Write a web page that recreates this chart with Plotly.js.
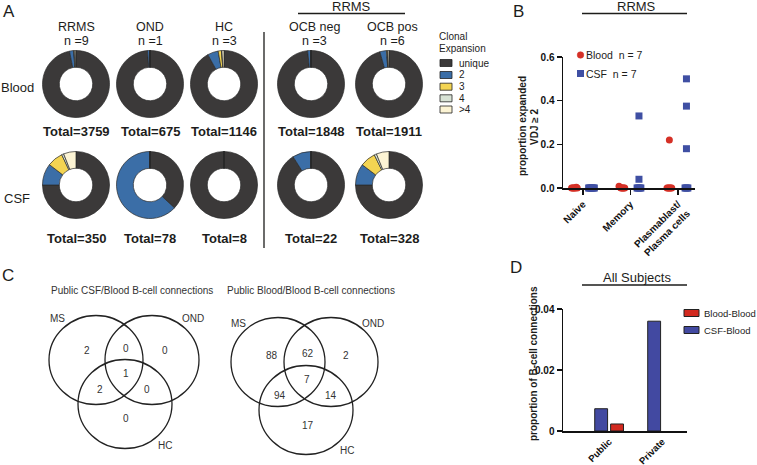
<!DOCTYPE html>
<html><head><meta charset="utf-8">
<script src="https://cdn.plot.ly/plotly-3.0.1.min.js"></script>
<style>html,body{margin:0;padding:0;background:#fff}#chart{width:757px;height:465px}</style>
</head><body><div id="chart"></div>
<script>
// ---------- Panel A data ----------
const cloneLabels = ['unique', '2', '3', '4', '>4'];
const groupNames = ['RRMS', 'OND', 'HC', 'OCB neg', 'OCB pos'];
const groupN = [9, 1, 3, 3, 6];
const bloodTotals = [3759, 675, 1146, 1848, 1911];
const csfTotals = [350, 78, 8, 22, 328];
// percentage of clones per expansion class (unique, 2, 3, 4, >4)
const bloodRRMS = [96.9, 2.0, 0.2, 0.5, 0.4];
const bloodOND = [98.8, 1.2, 0, 0, 0];
const bloodHC = [92.0, 5.2, 1.6, 0.2, 1.0];
const bloodOCBneg = [98.4, 1.6, 0, 0, 0];
const bloodOCBpos = [95.6, 3.2, 0.4, 0.2, 0.6];
const csfRRMS = [75.0, 10.4, 7.6, 1.0, 6.0];
const csfOND = [37.0, 63.0, 0, 0, 0];
const csfHC = [100, 0, 0, 0, 0];
const csfOCBneg = [91.0, 9.0, 0, 0, 0];
const csfOCBpos = [75.0, 10.3, 7.5, 1.1, 6.1];

// ---------- Panel B data ----------
const cellTypes = ['Naive', 'Memory', 'Plasmablast/<br>Plasma cells'];
const bloodNaive = [0, 0, 0, 0, 0, 0.004, 0];
const bloodMemory = [0.008, 0.003, 0, 0, 0, 0, 0];
const bloodPlasma = [0.22, 0, 0, 0, 0, 0, 0];
const csfNaive = [0, 0, 0, 0, 0, 0, 0];
const csfMemory = [0.33, 0.04, 0, 0, 0, 0, 0];
const csfPlasma = [0.5, 0.375, 0.18, 0, 0, 0, 0];

// ---------- Panel C data ----------
const vennSets = ['MS', 'OND', 'HC'];
// regions: MS only, MS&OND, OND only, all three, MS&HC, OND&HC, HC only
const vennCSFBlood = [2, 0, 0, 1, 2, 0, 0];
const vennBloodBlood = [88, 62, 2, 7, 94, 14, 17];

// ---------- Panel D data ----------
const connTypes = ['Public', 'Private'];
const csfBloodConn = [0.0073, 0.036];
const bloodBloodConn = [0.0023, 0];

// ---------- helpers ----------
const W = 757, H = 465;
const F = 'Liberation Sans, Arial, sans-serif';
const INK = '#1d1d1b';
const px = x => x / W;
const py = y => 1 - y / H;
const annotations = [];
const shapes = [];
function T(text, x, y, size, o) {
  annotations.push(Object.assign({text: text, x: px(x), y: py(y), xref: 'paper', yref: 'paper',
    showarrow: false, xanchor: 'center', yanchor: 'middle', borderpad: 0,
    font: {family: F, size: size, color: INK}}, o || {}));
}
function L(x0, y0, x1, y1, w) {
  shapes.push({type: 'line', xref: 'paper', yref: 'paper', x0: px(x0), y0: py(y0), x1: px(x1), y1: py(y1),
    line: {color: INK, width: w || 1.3}});
}
function R(x0, y0, x1, y1, fill, w) {
  shapes.push({type: 'rect', xref: 'paper', yref: 'paper', x0: px(x0), y0: py(y0), x1: px(x1), y1: py(y1),
    fillcolor: fill, line: {color: '#222', width: w == null ? 1 : w}});
}
function C(cx, cy, rx, ry, fill, w) {
  shapes.push({type: 'circle', xref: 'paper', yref: 'paper', x0: px(cx - rx), y0: py(cy + ry), x1: px(cx + rx), y1: py(cy - ry),
    fillcolor: fill || 'rgba(0,0,0,0)', line: {color: fill ? fill : '#222', width: w == null ? 1.3 : w}});
}

const traces = [];
// ---------- Panel A ----------
const cloneColors = ['#3b3939', '#3b6ea7', '#f3d452', '#d8e3d5', '#fcf4d4'];
const colX = [76, 150, 224, 311, 389];
const rowY = [84, 185];
const rad = 33.5;
const pieRows = [[bloodRRMS, bloodOND, bloodHC, bloodOCBneg, bloodOCBpos],
                 [csfRRMS, csfOND, csfHC, csfOCBneg, csfOCBpos]];
const totalsRows = [bloodTotals, csfTotals];
const totalY = [131, 238];
pieRows.forEach((row, r) => {
  row.forEach((vals, c) => {
    traces.push({type: 'pie', labels: cloneLabels, values: vals, sort: false, direction: 'clockwise', rotation: 0,
      hole: 0.5, textinfo: 'none', hoverinfo: 'label+percent', showlegend: false,
      marker: {colors: cloneColors, line: {color: '#2a2a2a', width: 0.7}},
      domain: {x: [px(colX[c] - rad), px(colX[c] + rad)], y: [py(rowY[r] + rad), py(rowY[r] - rad)]}});
    T('<b>Total=' + totalsRows[r][c] + '</b>', colX[c], totalY[r], 13);
  });
});
groupNames.forEach((g, c) => {
  T(g, colX[c] + (c >= 3 ? 3 : 0), 27, 12.5);
  T('n =' + groupN[c], colX[c] + (c >= 3 ? 3 : 0), 41.5, 12.5);
});
T('Blood', 17, 88, 13);
T('CSF', 17, 198, 13);
T('RRMS', 351, 7, 13);
L(298, 13.5, 405, 13.5, 1.3);
L(264, 32, 264, 248, 1.3);
T('A', 9, 12, 17);
// legend A
T('Clonal', 438, 36.5, 10, {xanchor: 'left'});
T('Expansion', 438, 48, 10, {xanchor: 'left'});
const legY = [63, 75, 86.7, 98.3, 109.5];
cloneLabels.forEach((lab, i) => {
  R(440, legY[i] - 3.5, 452, legY[i] + 3.5, cloneColors[i], 0.8);
  T(lab, 458, legY[i], 10, {xanchor: 'left'});
});

// ---------- Panel B ----------
const bRed = '#d53026', bBlue = '#3f4fa3';
function dotX(vals, cat, off) {
  const zeros = vals.filter(v => v < 0.015).length;
  let k = 0;
  return vals.map(v => {
    if (v < 0.015) { const x = cat + off + (k - (zeros - 1) / 2) * 0.02; k++; return x; }
    return cat + off;
  });
}
const bloodSets = [bloodNaive, bloodMemory, bloodPlasma];
const csfSets = [csfNaive, csfMemory, csfPlasma];
let bx = [], by = [], cx = [], cy = [];
bloodSets.forEach((s, i) => { bx = bx.concat(dotX(s, i, -0.18)); by = by.concat(s); });
csfSets.forEach((s, i) => { cx = cx.concat(dotX(s, i, 0.18)); cy = cy.concat(s); });
traces.push({type: 'scatter', mode: 'markers', x: bx, y: by, xaxis: 'x', yaxis: 'y', cliponaxis: false,
  marker: {symbol: 'circle', size: 7, color: bRed}, showlegend: false, name: 'Blood'});
traces.push({type: 'scatter', mode: 'markers', x: cx, y: cy, xaxis: 'x', yaxis: 'y', cliponaxis: false,
  marker: {symbol: 'square', size: 7, color: bBlue}, showlegend: false, name: 'CSF'});
T('B', 518, 11, 17);
T('RRMS', 636, 7, 13);
L(582, 13.5, 687, 13.5, 1.3);
T('<b>proportion expanded</b>', 522, 126, 10, {textangle: -90});
T('<b>VDJ ≥ 2</b>', 534, 127, 10, {textangle: -90});
C(580.5, 55, 3.3, 3.3, bRed, 0.5);
R(577, 70, 584, 77, bBlue, 0);
T('Blood\u00a0 n = 7', 585, 55, 10.5, {xanchor: 'left'});
T('CSF\u00a0 n = 7', 585, 73.5, 10.5, {xanchor: 'left'});

// ---------- Panel C ----------
T('C', 8, 275, 17);
T('Public CSF/Blood B-cell connections', 132, 290, 10, {font: {family: F, size: 10, color: '#333'}});
T('Public Blood/Blood B-cell connections', 311, 290, 10, {font: {family: F, size: 10, color: '#333'}});
const vennCentersL = [[96, 360], [152, 360], [125, 404]];
const vennCentersR = [[278, 362], [331, 362], [306, 410]];
[vennCentersL, vennCentersR].forEach(cs => cs.forEach(c => C(c[0], c[1], 47, 44.5, null, 1.3)));
const vennLabelPosL = [[57, 318], [193, 318], [165, 445]];
const vennLabelPosR = [[238, 323], [373, 323], [347, 450]];
vennSets.forEach((s, i) => {
  T(s, vennLabelPosL[i][0], vennLabelPosL[i][1], 10, {font: {family: F, size: 10, color: '#333'}});
  T(s, vennLabelPosR[i][0], vennLabelPosR[i][1], 10, {font: {family: F, size: 10, color: '#333'}});
});
const vennNumPosL = [[87, 350], [126, 348], [165, 350], [126, 373], [100, 389], [147, 389], [126, 418]];
const vennNumPosR = [[272, 355], [308, 353], [346, 355], [307, 379], [280, 395], [331, 395], [308, 425]];
vennCSFBlood.forEach((v, i) => T(String(v), vennNumPosL[i][0], vennNumPosL[i][1], 10, {font: {family: F, size: 10, color: '#333'}}));
vennBloodBlood.forEach((v, i) => T(String(v), vennNumPosR[i][0], vennNumPosR[i][1], 10, {font: {family: F, size: 10, color: '#333'}}));

// ---------- Panel D ----------
const dRed = '#d2291f', dBlue = '#4249a1';
traces.push({type: 'bar', x: connTypes, y: csfBloodConn, xaxis: 'x2', yaxis: 'y2', name: 'CSF-Blood',
  marker: {color: dBlue, line: {color: '#222', width: 1}}, showlegend: false});
traces.push({type: 'bar', x: connTypes, y: bloodBloodConn, xaxis: 'x2', yaxis: 'y2', name: 'Blood-Blood',
  marker: {color: dRed, line: {color: '#222', width: bloodBloodConn.map(v => v > 0 ? 1 : 0)}}, showlegend: false});
T('D', 516, 267, 17);
T('All Subjects', 637, 277, 13);
L(582, 285, 687, 285, 1.3);
T('<b>proportion of B-cell connections</b>', 533, 364, 10, {textangle: -90});
R(684, 309.5, 699, 316.5, dRed, 1);
R(684, 326.5, 699, 333.5, dBlue, 1);
T('Blood-Blood', 703, 313, 9.5, {xanchor: 'left'});
T('CSF-Blood', 703, 330, 9.5, {xanchor: 'left'});

const axCommon = {showline: true, linewidth: 1.5, linecolor: '#111', showgrid: false, zeroline: false,
  tickcolor: '#111', tickwidth: 1.5, ticklen: 5, fixedrange: true,
  tickfont: {family: F, size: 10, color: '#111', weight: 'bold'}};
const layout = {
  width: W, height: H, margin: {l: 0, r: 0, t: 0, b: 0}, paper_bgcolor: '#fff', plot_bgcolor: 'rgba(0,0,0,0)',
  showlegend: false, barmode: 'group', bargap: 0.4, bargroupgap: 0.19,
  xaxis: Object.assign({}, axCommon, {domain: [px(563), px(695)], anchor: 'y', range: [-0.42, 2.36],
    tickvals: [0, 1, 2], ticktext: cellTypes, tickangle: -45, ticks: 'outside'}),
  yaxis: Object.assign({}, axCommon, {domain: [py(188), py(57)], anchor: 'x', range: [0, 0.6],
    tickvals: [0, 0.2, 0.4, 0.6], tickformat: '.1f', ticks: 'outside'}),
  xaxis2: Object.assign({}, axCommon, {domain: [px(563), px(687)], anchor: 'y2', type: 'category',
    range: [-0.87, 1.47], tickangle: -45, ticks: '',
    tickfont: {family: F, size: 9.5, color: '#111', weight: 'bold'}}),
  yaxis2: Object.assign({}, axCommon, {domain: [py(431), py(309)], anchor: 'x2', range: [0, 0.04],
    tickvals: [0, 0.02, 0.04], ticktext: ['0', '0.02', '0.04'], ticks: 'outside'}),
  annotations: annotations, shapes: shapes
};
Plotly.newPlot('chart', traces, layout, {displayModeBar: false, staticPlot: true});
</script>
</body></html>
